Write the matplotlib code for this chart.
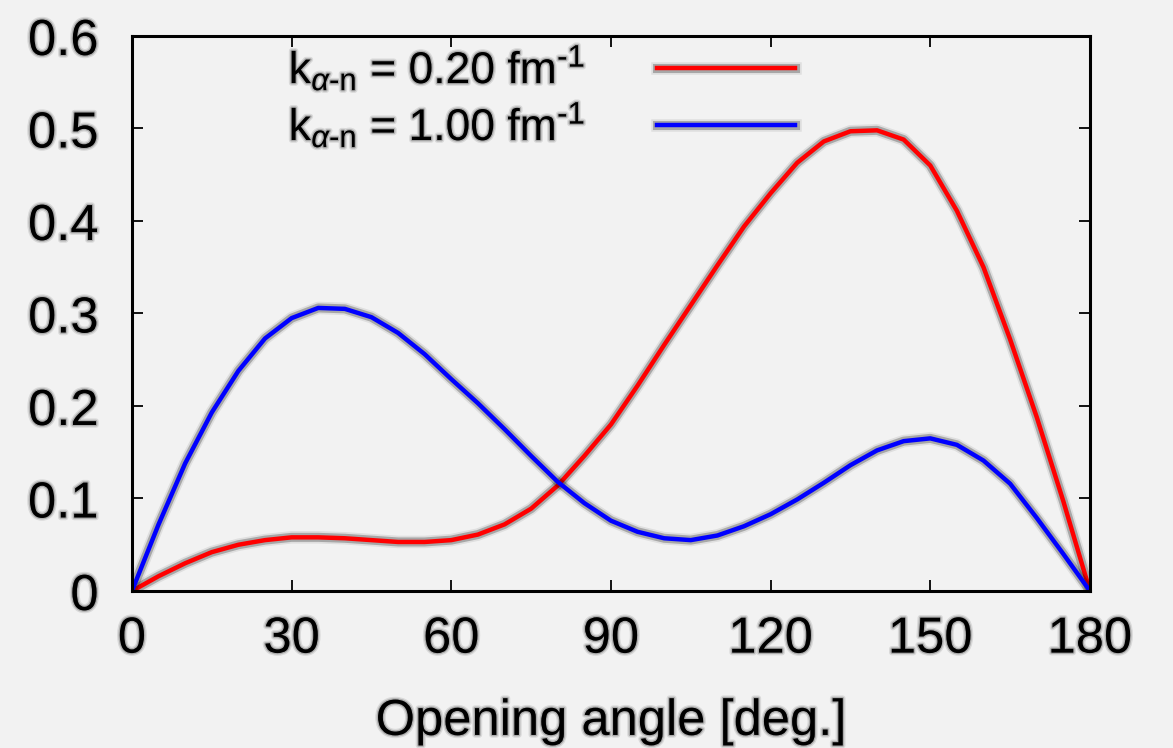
import matplotlib
matplotlib.use("Agg")
import matplotlib.pyplot as plt
import matplotlib.patheffects as pe

plt.rcParams['font.family'] = ['Liberation Sans', 'DejaVu Sans']
plt.rcParams['mathtext.fontset'] = 'custom'
plt.rcParams['mathtext.rm'] = 'Liberation Sans'
plt.rcParams['mathtext.it'] = 'Liberation Sans:italic'
plt.rcParams['mathtext.bf'] = 'Liberation Sans:bold'

# opening angle in degrees
angle = [0, 5, 10, 15, 20, 25, 30, 35, 40, 45, 50, 55, 60, 65, 70, 75, 80, 85, 90,
         95, 100, 105, 110, 115, 120, 125, 130, 135, 140, 145, 150, 155, 160, 165,
         170, 175, 180]

# k = 0.20 fm^-1
dens_020 = [0.000, 0.016, 0.030, 0.042, 0.050, 0.055, 0.058, 0.058, 0.057, 0.055,
            0.053, 0.053, 0.055, 0.061, 0.072, 0.089, 0.114, 0.146, 0.180, 0.222,
            0.266, 0.309, 0.352, 0.394, 0.430, 0.463, 0.486, 0.497, 0.498, 0.488,
            0.460, 0.411, 0.350, 0.272, 0.188, 0.097, 0.000]

# k = 1.00 fm^-1
dens_100 = [0.000, 0.072, 0.138, 0.193, 0.238, 0.273, 0.295, 0.306, 0.305, 0.296,
            0.279, 0.256, 0.229, 0.203, 0.175, 0.146, 0.118, 0.095, 0.076, 0.064,
            0.057, 0.055, 0.060, 0.070, 0.083, 0.099, 0.117, 0.136, 0.152, 0.162,
            0.165, 0.158, 0.141, 0.116, 0.079, 0.040, 0.000]

labels = [r'k$_{\alpha\mathrm{\text{-}n}}$ = 0.20 fm$^{\text{-1}}$',
          r'k$_{\alpha\mathrm{\text{-}n}}$ = 1.00 fm$^{\text{-1}}$']

bg = '#f2f2f2'
fs = 36.5
fig = plt.figure(figsize=(11.73, 7.48), dpi=100)
fig.set_facecolor(bg)
ax = fig.add_axes([0.1125, 0.2099, 0.8167, 0.7420])
ax.set_facecolor(bg)

shadow = [pe.Stroke(linewidth=9, foreground='black', alpha=0.08),
          pe.Stroke(linewidth=6.5, foreground='black', alpha=0.25),
          pe.Normal()]
txt_shadow = [pe.Stroke(linewidth=4, foreground='black', alpha=0.1),
              pe.Stroke(linewidth=2, foreground='black', alpha=0.2), pe.Normal()]

ax.plot(angle, dens_020, color='#ff0000', lw=3.2, label=labels[0],
        path_effects=shadow, solid_joinstyle='round')
ax.plot(angle, dens_100, color='#0000ff', lw=3.2, label=labels[1],
        path_effects=shadow, solid_joinstyle='round')

ax.set_xlim(0, 180)
ax.set_ylim(0, 0.6)
ax.set_xticks([0, 30, 60, 90, 120, 150, 180])
ax.set_yticks([0, 0.1, 0.2, 0.3, 0.4, 0.5, 0.6])
ax.set_yticklabels(['0', '0.1', '0.2', '0.3', '0.4', '0.5', '0.6'])
ax.tick_params(direction='in', top=True, right=True, length=8, width=1.3,
               labelsize=fs)
ax.tick_params(axis='x', pad=17)
ax.tick_params(axis='y', pad=24)
for s in ax.spines.values():
    s.set_linewidth(2.2)

ax.set_xlabel('Opening angle [deg.]', fontsize=fs, labelpad=24)

for t in ax.get_xticklabels() + ax.get_yticklabels():
    t.set_path_effects(txt_shadow)
ax.xaxis.label.set_path_effects(txt_shadow)

leg = ax.legend(loc='upper left', bbox_to_anchor=(0.145, 1.02), frameon=False,
                fontsize=32, markerfirst=False, handlelength=3.1,
                handletextpad=1.6, labelspacing=0.15, borderaxespad=0)
for t in leg.get_texts():
    t.set_path_effects(txt_shadow)

fig.savefig('out.png', dpi=100, facecolor=bg)
